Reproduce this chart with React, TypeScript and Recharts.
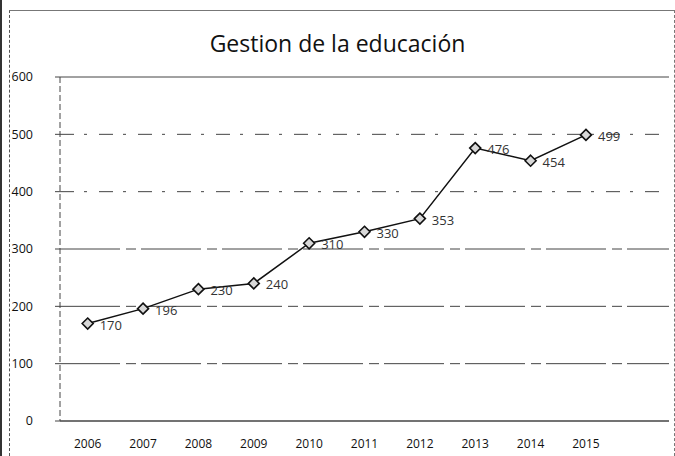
import { LineChart, Line, XAxis, YAxis, CartesianGrid, ReferenceLine } from 'recharts';

// values
const years = ['2006', '2007', '2008', '2009', '2010', '2011', '2012', '2013', '2014', '2015'];
const gestion = [170, 196, 230, 240, 310, 330, 353, 476, 454, 499];
const yTicks = [0, 100, 200, 300, 400, 500, 600];

// one empty slot at the end, like the original Excel axis
const data = [...years.map((year, i) => ({ year, value: gestion[i] })), { year: '', value: null }];

const font = '"Open Sans", "Liberation Sans", sans-serif';

const Diamond = (props: any) => {
  const { cx, cy } = props;
  if (cx == null || cy == null) return null;
  const r = 5.5;
  return (
    <path
      d={`M${cx},${cy - r} L${cx + r},${cy} L${cx},${cy + r} L${cx - r},${cy} Z`}
      fill="#d8d8d8"
      stroke="#111"
      strokeWidth={1.6}
    />
  );
};

const PointLabel = (props: any) => {
  const { x, y, value } = props;
  if (value == null) return null;
  return (
    <text x={x + 12} y={y + 6} fontSize={13} fontFamily={font} fill="#333" textAnchor="start">
      {value}
    </text>
  );
};

const App = () => {
  return (
    <div style={{ position: 'absolute', left: 0, top: 0, width: 675, height: 456, background: '#fff' }}>
      {/* scanned frame */}
      <div
        style={{
          position: 'absolute',
          left: 9,
          top: 10,
          width: 664,
          height: 450,
          borderLeft: '1px dashed #555',
          borderTop: '1px solid #777',
          borderRight: '1px dashed #777',
        }}
      />
      <div style={{ position: 'absolute', left: 0, top: 0, width: 2, height: 456, background: '#333' }} />
      <div
        style={{
          position: 'absolute',
          left: 0,
          top: 27,
          width: 675,
          textAlign: 'center',
          fontFamily: font,
          fontSize: 23,
          color: '#111',
        }}
      >
        Gestion de la educación
      </div>
      <div style={{ position: 'absolute', left: 0, top: 0 }}>
        <LineChart width={675} height={456} data={data} margin={{ top: 77, right: 6, bottom: 0, left: 0 }}>
          <CartesianGrid horizontal={false} vertical={false} />
          {yTicks
            .filter((t) => t > 0)
            .map((t) => (
              <ReferenceLine
                key={t}
                y={t}
                stroke="#444"
                strokeWidth={1}
                strokeDasharray={t === 400 || t === 500 ? '14 10 3 12' : t === 600 ? undefined : '60 6 10 5'}
              />
            ))}
          <XAxis
            dataKey="year"
            scale="band"
            axisLine={{ stroke: '#444', strokeWidth: 1.5 }}
            tickLine={false}
            interval={0}
            tick={{ fontSize: 12, fontFamily: font, fill: '#111' }}
            tickMargin={12}
            height={35}
          />
          <YAxis
            domain={[0, 600]}
            ticks={yTicks}
            axisLine={{ stroke: '#444', strokeDasharray: '6 3' }}
            tickLine={{ stroke: '#444' }}
            tickSize={5}
            tickMargin={22}
            tick={{ fontSize: 12.5, fontFamily: font, fill: '#111' }}
            width={60}
          />
          <Line
            type="linear"
            dataKey="value"
            stroke="#111"
            strokeWidth={1.5}
            dot={<Diamond />}
            activeDot={false}
            label={<PointLabel />}
            isAnimationActive={false}
          />
        </LineChart>
      </div>
    </div>
  );
};

export default App;
